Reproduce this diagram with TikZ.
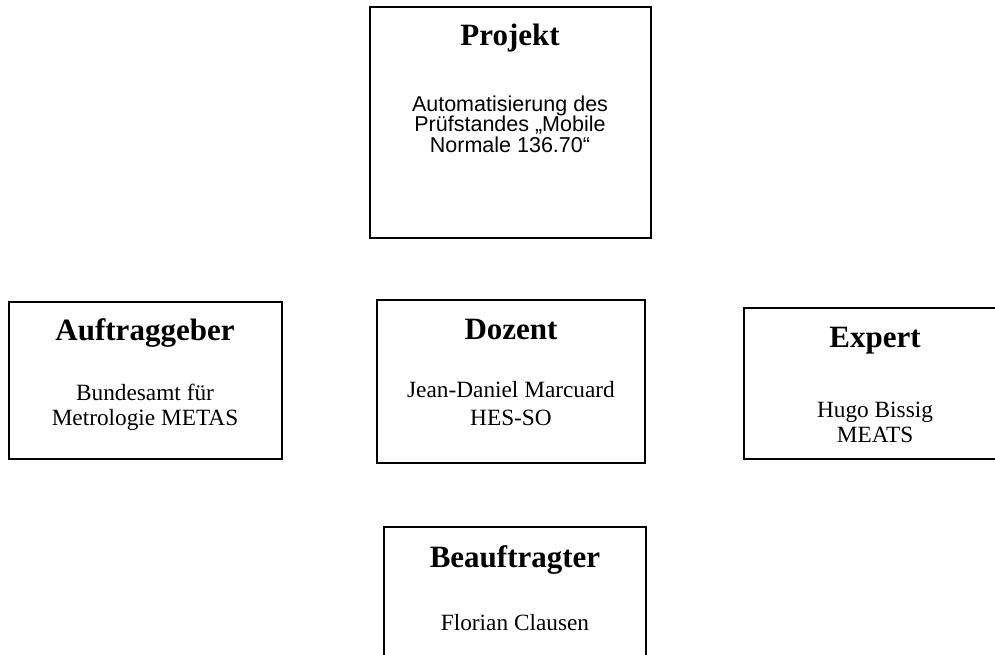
\documentclass[tikz,border=0pt]{standalone}
\usepackage{fontspec}
\setmainfont{Liberation Serif}
\newfontfamily\arialf{Liberation Sans}
\begin{document}
\begin{tikzpicture}[x=1pt,y=-1pt,
  box/.style={draw=black,line width=1.7pt,inner sep=0pt},
  ttl/.style={anchor=base,inner sep=0pt,font=\fontsize{31}{31}\selectfont\bfseries},
  bodytxt/.style={anchor=base,inner sep=0pt,font=\fontsize{23.3}{23.3}\selectfont},
  sanstxt/.style={anchor=north,inner sep=0pt,align=center,font=\arialf\fontsize{21.5}{20.5}\selectfont}]
\useasboundingbox (0,0) rectangle (995,654);
\clip (0,0) rectangle (995,654);
% boxes
\draw[box] (370,7) rectangle (651,238);
\draw[box] (9,302) rectangle (282,459);
\draw[box] (377,300) rectangle (645,463);
\draw[box] (744,308) rectangle (1006,459);
\draw[box] (384,527) rectangle (646,680);
% Projekt
\node[ttl] (projt) at (510,45) {Projekt};
\node[sanstxt] (projb) at (510,95) {\rule{0pt}{16pt}Automatisierung des\\Prüfstandes „Mobile\\Normale 136.70“};
% Auftraggeber
\node[ttl] (auft) at (145,340) {Auftraggeber};
\node[bodytxt] (auf1) at (145,400) {Bundesamt für};
\node[bodytxt] (auf2) at (145,425) {Metrologie METAS};
% Dozent
\node[ttl] (dozt) at (511,339) {Dozent};
\node[bodytxt] (doz1) at (511,397) {Jean-Daniel Marcuard};
\node[bodytxt] (doz2) at (511,425) {HES-SO};
% Expert
\node[ttl] (expt) at (875,347) {Expert};
\node[bodytxt] (exp1) at (875,417) {Hugo Bissig};
\node[bodytxt] (exp2) at (875,442) {MEATS};
% Beauftragter
\node[ttl] (beat) at (515,567) {Beauftragter};
\node[bodytxt] (bea1) at (515,630) {Florian Clausen};
\end{tikzpicture}
\end{document}
